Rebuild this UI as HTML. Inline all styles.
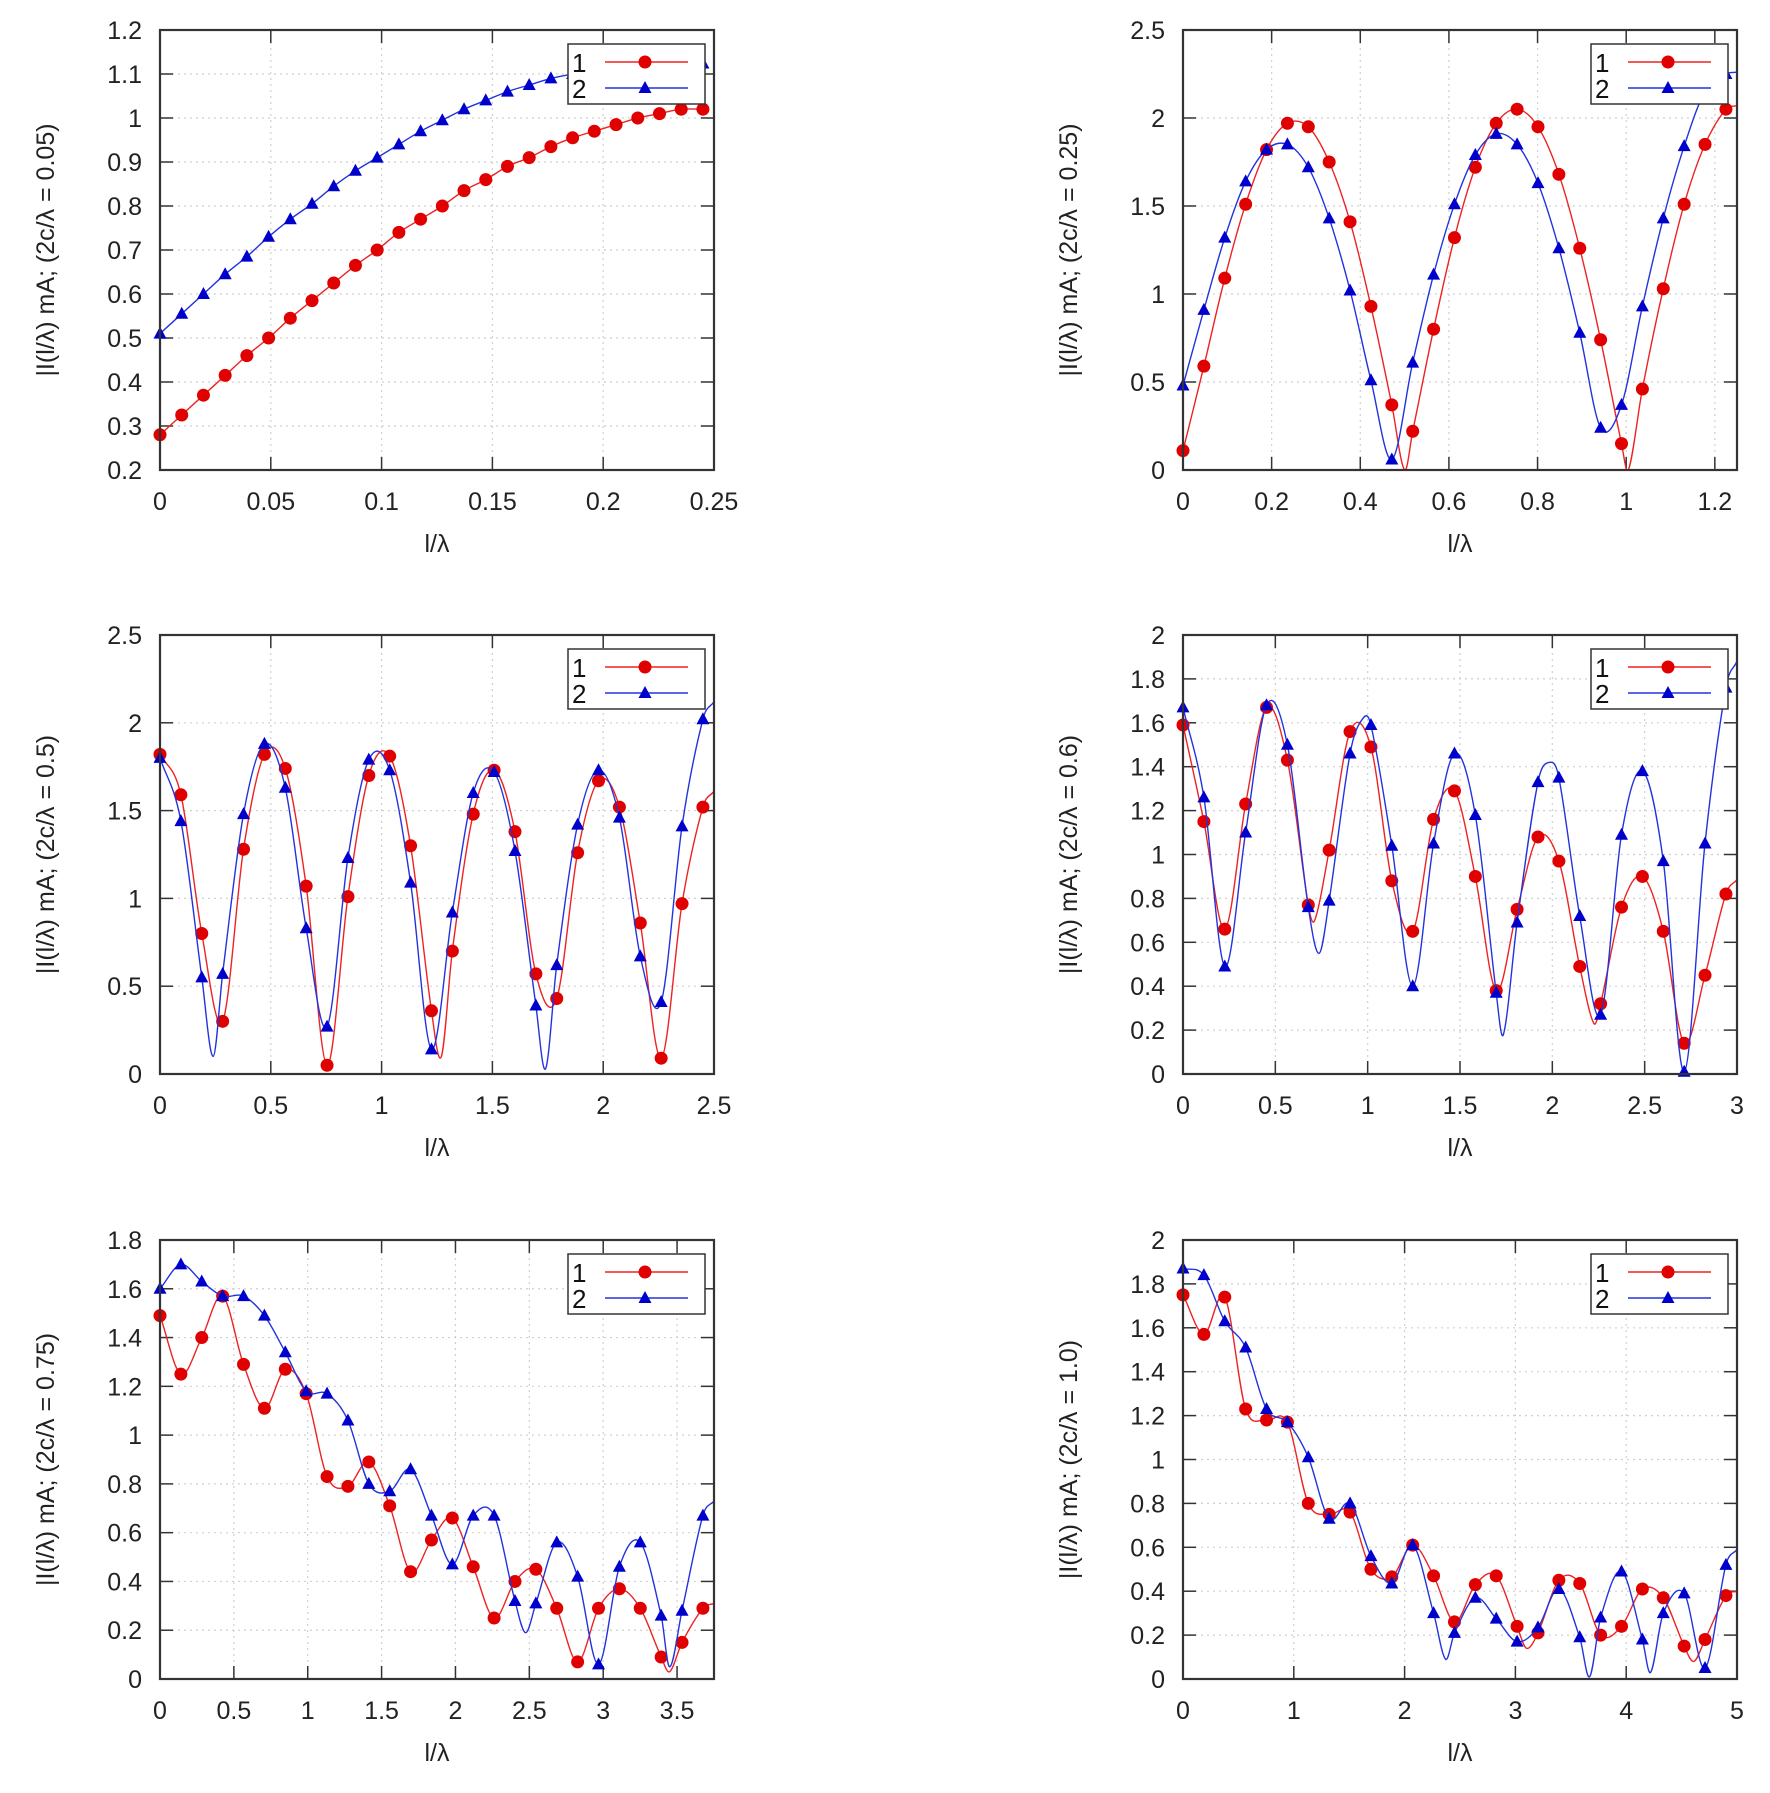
<!DOCTYPE html>
<html><head><meta charset="utf-8">
<style>
html,body{margin:0;padding:0;background:#fff;}
svg{display:block;font-family:"Liberation Sans",Arial,sans-serif;}
</style></head>
<body>
<svg id="fig" width="1770" height="1793" viewBox="0 0 1770 1793" xmlns="http://www.w3.org/2000/svg"></svg>
<script>
// ---- Plot 1 (2c/λ = 0.05)
const p1Red = [0.28,0.325,0.37,0.415,0.46,0.50,0.545,0.585,0.625,0.665,0.70,0.74,0.77,0.80,0.835,0.86,0.89,0.91,0.935,0.955,0.97,0.985,1.0,1.01,1.02,1.02];
const p1Blue = [0.51,0.555,0.60,0.645,0.685,0.73,0.77,0.805,0.845,0.88,0.91,0.94,0.97,0.995,1.02,1.04,1.06,1.075,1.09,1.10,1.108,1.114,1.118,1.12,1.122,1.124];
const p1RedExtra = [];
const p1BlueExtra = [];
const p1XTicks = [0,0.05,0.1,0.15,0.2,0.25];
const p1XLabels = ["0","0.05","0.1","0.15","0.2","0.25"];
const p1YTicks = [0.2,0.3,0.4,0.5,0.6,0.7,0.8,0.9,1.0,1.1,1.2];
const p1YLabels = ["0.2","0.3","0.4","0.5","0.6","0.7","0.8","0.9","1","1.1","1.2"];
// ---- Plot 2 (0.25)
const p2Red = [0.11,0.59,1.09,1.51,1.82,1.97,1.95,1.75,1.41,0.93,0.37,0.22,0.80,1.32,1.72,1.97,2.05,1.95,1.68,1.26,0.74,0.15,0.46,1.03,1.51,1.85,2.05];
const p2Blue = [0.48,0.91,1.32,1.64,1.82,1.85,1.72,1.43,1.02,0.51,0.06,0.61,1.11,1.51,1.79,1.91,1.85,1.63,1.26,0.78,0.24,0.37,0.93,1.43,1.84,2.15,2.25];
const p2RedExtra = [[0.50,0.0],[1.005,0.0],[1.25,2.07]];
const p2BlueExtra = [[0.478,0.0],[0.98,0.0],[1.25,2.26]];
const p2XTicks = [0,0.2,0.4,0.6,0.8,1.0,1.2];
const p2XLabels = ["0","0.2","0.4","0.6","0.8","1","1.2"];
const p2YTicks = [0,0.5,1,1.5,2,2.5];
const p2YLabels = ["0","0.5","1","1.5","2","2.5"];
// ---- Plot 3 (0.5)
const p3Red = [1.82,1.59,0.80,0.30,1.28,1.82,1.74,1.07,0.05,1.01,1.70,1.81,1.30,0.36,0.70,1.48,1.73,1.38,0.57,0.43,1.26,1.67,1.52,0.86,0.09,0.97,1.52];
const p3Blue = [1.80,1.44,0.55,0.57,1.48,1.88,1.63,0.83,0.27,1.23,1.79,1.73,1.09,0.14,0.92,1.60,1.72,1.27,0.39,0.62,1.42,1.73,1.46,0.67,0.41,1.41,2.02];
const p3RedExtra = [[0.257,0.08],[1.27,0.10],[1.77,0.05],[2.28,0.07],[2.5,1.61]];
const p3BlueExtra = [[0.24,0.10],[0.74,0.09],[1.74,0.03],[2.25,0.07],[2.5,2.12]];
const p3XTicks = [0,0.5,1,1.5,2,2.5];
const p3XLabels = ["0","0.5","1","1.5","2","2.5"];
const p3YTicks = [0,0.5,1,1.5,2,2.5];
const p3YLabels = ["0","0.5","1","1.5","2","2.5"];
// ---- Plot 4 (0.6)
const p4Red = [1.59,1.15,0.66,1.23,1.67,1.43,0.77,1.02,1.56,1.49,0.88,0.65,1.16,1.29,0.90,0.38,0.75,1.08,0.97,0.49,0.32,0.76,0.90,0.65,0.14,0.45,0.82];
const p4Blue = [1.67,1.26,0.49,1.10,1.68,1.50,0.76,0.79,1.46,1.59,1.04,0.40,1.05,1.46,1.18,0.37,0.69,1.33,1.35,0.72,0.27,1.09,1.38,0.97,0.01,1.05,1.76];
const p4RedExtra = [[0.713,0.70],[1.21,0.59],[2.225,0.23],[2.74,0.07],[3.0,0.885]];
const p4BlueExtra = [[0.737,0.55],[0.974,1.62],[1.735,0.18],[1.986,1.42],[2.24,0.09],[3.0,1.88]];
const p4XTicks = [0,0.5,1,1.5,2,2.5,3];
const p4XLabels = ["0","0.5","1","1.5","2","2.5","3"];
const p4YTicks = [0,0.2,0.4,0.6,0.8,1.0,1.2,1.4,1.6,1.8,2.0];
const p4YLabels = ["0","0.2","0.4","0.6","0.8","1","1.2","1.4","1.6","1.8","2"];
// ---- Plot 5 (0.75)
const p5Red = [1.49,1.25,1.40,1.57,1.29,1.11,1.27,1.17,0.83,0.79,0.89,0.71,0.44,0.57,0.66,0.46,0.25,0.40,0.45,0.29,0.07,0.29,0.37,0.29,0.09,0.15,0.29];
const p5Blue = [1.60,1.70,1.63,1.57,1.57,1.49,1.34,1.18,1.17,1.06,0.80,0.77,0.86,0.67,0.47,0.67,0.67,0.32,0.31,0.56,0.42,0.06,0.46,0.56,0.26,0.28,0.67];
const p5RedExtra = [[3.45,0.03],[3.75,0.31]];
const p5BlueExtra = [[2.475,0.19],[3.45,0.05],[3.75,0.73]];
const p5XTicks = [0,0.5,1,1.5,2,2.5,3,3.5];
const p5XLabels = ["0","0.5","1","1.5","2","2.5","3","3.5"];
const p5YTicks = [0,0.2,0.4,0.6,0.8,1.0,1.2,1.4,1.6,1.8];
const p5YLabels = ["0","0.2","0.4","0.6","0.8","1","1.2","1.4","1.6","1.8"];
// ---- Plot 6 (1.0)
const p6Red = [1.75,1.57,1.74,1.23,1.18,1.17,0.80,0.75,0.76,0.50,0.465,0.61,0.47,0.26,0.43,0.47,0.24,0.21,0.45,0.435,0.20,0.24,0.41,0.37,0.15,0.18,0.38];
const p6Blue = [1.87,1.84,1.63,1.51,1.23,1.17,1.01,0.73,0.80,0.56,0.435,0.61,0.30,0.21,0.37,0.275,0.17,0.235,0.41,0.19,0.28,0.49,0.18,0.30,0.39,0.05,0.52];
const p6RedExtra = [[3.10,0.14],[3.82,0.14],[4.61,0.08],[5.0,0.40]];
const p6BlueExtra = [[2.37,0.09],[3.67,0.01],[4.22,0.03],[4.72,0.01],[5.0,0.59]];
const p6XTicks = [0,1,2,3,4,5];
const p6XLabels = ["0","1","2","3","4","5"];
const p6YTicks = [0,0.2,0.4,0.6,0.8,1.0,1.2,1.4,1.6,1.8,2.0];
const p6YLabels = ["0","0.2","0.4","0.6","0.8","1","1.2","1.4","1.6","1.8","2"];

const xMaxes = [0.25,1.25,2.5,3.0,3.75,5.0];
const yMins = [0.2,0,0,0,0,0];
const yMaxes = [1.2,2.5,2.5,2.0,1.8,2.0];
const titles = ["0.05","0.25","0.5","0.6","0.75","1.0"];

const NS="http://www.w3.org/2000/svg";
const svg=document.getElementById('fig');
function mk(tag,attrs,parent){const e=document.createElementNS(NS,tag);for(const k in attrs)e.setAttribute(k,attrs[k]);(parent||svg).appendChild(e);return e;}

const boxes=[[160,30,714,470],[1183,30,1737,470],[160,635,714,1074],[1183,635,1737,1074],[160,1240,714,1679],[1183,1240,1737,1679]];
const plots=[
 [p1Red,p1Blue,p1RedExtra,p1BlueExtra,p1XTicks,p1XLabels,p1YTicks,p1YLabels],
 [p2Red,p2Blue,p2RedExtra,p2BlueExtra,p2XTicks,p2XLabels,p2YTicks,p2YLabels],
 [p3Red,p3Blue,p3RedExtra,p3BlueExtra,p3XTicks,p3XLabels,p3YTicks,p3YLabels],
 [p4Red,p4Blue,p4RedExtra,p4BlueExtra,p4XTicks,p4XLabels,p4YTicks,p4YLabels],
 [p5Red,p5Blue,p5RedExtra,p5BlueExtra,p5XTicks,p5XLabels,p5YTicks,p5YLabels],
 [p6Red,p6Blue,p6RedExtra,p6BlueExtra,p6XTicks,p6XLabels,p6YTicks,p6YLabels]
];

function smoothPath(pts){
  let d='M'+pts[0][0].toFixed(1)+','+pts[0][1].toFixed(1);
  for(let i=0;i<pts.length-1;i++){
    const p0=pts[Math.max(0,i-1)],p1=pts[i],p2=pts[i+1],p3=pts[Math.min(pts.length-1,i+2)];
    const h=p2[0]-p1[0];
    const s1=(p2[1]-p0[1])/Math.max(1e-6,(p2[0]-p0[0]));
    const s2=(p3[1]-p1[1])/Math.max(1e-6,(p3[0]-p1[0]));
    const c1x=p1[0]+h/3,c1y=p1[1]+s1*h/3;
    const c2x=p2[0]-h/3,c2y=p2[1]-s2*h/3;
    d+=' C'+c1x.toFixed(1)+','+c1y.toFixed(1)+' '+c2x.toFixed(1)+','+c2y.toFixed(1)+' '+p2[0].toFixed(1)+','+p2[1].toFixed(1);
  }
  return d;
}

plots.forEach((P,k)=>{
  const [L,T,R,B]=boxes[k];
  const xmax=xMaxes[k],ymin=yMins[k],ymax=yMaxes[k];
  const sx=v=>L+(v/xmax)*(R-L);
  const sy=v=>B-(v-ymin)/(ymax-ymin)*(B-T);
  const step=xmax*0.98/(P[0].length-1);
  const g=mk('g',{});
  
  
  const cid='clip'+k;
  const cp=mk('clipPath',{id:cid},g);mk('rect',{x:L,y:T,width:R-L,height:B-T},cp);
  P[4].forEach((v,i)=>{
    const x=sx(v);
    if(i>0&&Math.abs(x-R)>2){const gl=mk('line',{x1:x,y1:T,x2:x,y2:B,stroke:'#d0d0d0','stroke-width':1.2,'stroke-dasharray':'2,4'},g);
      }
    mk('line',{x1:x,y1:B,x2:x,y2:B-13,stroke:'#333','stroke-width':1.5},g);
    mk('line',{x1:x,y1:T,x2:x,y2:T+13,stroke:'#333','stroke-width':1.5},g);
    const t=mk('text',{x:x,y:B+40,'font-size':25,'text-anchor':'middle',fill:'#222'},g);
    t.textContent=P[5][i];
    
  });
  P[6].forEach((v,i)=>{
    const y=sy(v);
    if(i>0&&i<P[6].length-1){const gl=mk('line',{x1:L,y1:y,x2:R,y2:y,stroke:'#d0d0d0','stroke-width':1.2,'stroke-dasharray':'2,4'},g);
      }
    mk('line',{x1:L,y1:y,x2:L+13,y2:y,stroke:'#333','stroke-width':1.5},g);
    mk('line',{x1:R,y1:y,x2:R-13,y2:y,stroke:'#333','stroke-width':1.5},g);
    const t=mk('text',{x:L-18,y:y+9,'font-size':25,'text-anchor':'end',fill:'#222'},g);
    t.textContent=P[7][i];
    
  });
  const series=[[P[0],P[2],'#ee2222','#e00000','circle','series-1'],[P[1],P[3],'#2233dd','#0000cc','tri','series-2']];
  series.forEach(s=>{
    let pts=s[0].map((v,i)=>[i*step,v]);
    s[1].forEach(e=>{ if(!pts.some(p=>Math.abs(p[0]-e[0])<step*0.3)) pts.push(e); });
    pts=pts.filter(p=>p[0]<=xmax+1e-9).sort((a,b)=>a[0]-b[0]);
    const path=mk('path',{d:smoothPath(pts.map(p=>[sx(p[0]),sy(p[1])])),fill:'none',stroke:s[2],'stroke-width':1.4,'clip-path':'url(#'+cid+')'},g);
    
    s[0].forEach((v,i)=>{
      const x=sx(i*step),y=sy(v);
      let m;
      if(s[4]==='circle') m=mk('circle',{cx:x,cy:y,r:6.5,fill:s[3]},g);
      else m=mk('polygon',{points:(x)+','+(y-7)+' '+(x-6.5)+','+(y+5)+' '+(x+6.5)+','+(y+5),fill:s[3]},g);
      
    });
  });
  const fr=mk('rect',{x:L,y:T,width:R-L,height:B-T,fill:'none',stroke:'#333','stroke-width':2.2},g);
  
  const lg=mk('g',{},g);
  
  const lx=R-146,ly=T+14;
  mk('rect',{x:lx,y:ly,width:137,height:60,fill:'#fff',stroke:'#333','stroke-width':1.5},lg);
  [['1','#ee2222','#e00000','circle',ly+18],['2','#2233dd','#0000cc','tri',ly+44]].forEach(e=>{
    const t=mk('text',{x:lx+4,y:e[4]+10,'font-size':26,fill:'#111'},lg);t.textContent=e[0];
    
    mk('line',{x1:lx+37,y1:e[4],x2:lx+120,y2:e[4],stroke:e[1],'stroke-width':1.4},lg);
    const cx=lx+77;
    if(e[3]==='circle')mk('circle',{cx:cx,cy:e[4],r:6.5,fill:e[2]},lg);
    else mk('polygon',{points:cx+','+(e[4]-7)+' '+(cx-6.5)+','+(e[4]+5)+' '+(cx+6.5)+','+(e[4]+5),fill:e[2]},lg);
  });
  const xt=mk('text',{x:(L+R)/2,y:B+82,'font-size':25,'text-anchor':'middle',fill:'#222'},g);
  xt.textContent='l/λ';
  
  const cy=(T+B)/2, cx=L-106;
  const yt=mk('text',{x:cx,y:cy,'font-size':25,'text-anchor':'middle',fill:'#222',transform:'rotate(-90 '+cx+' '+cy+')'},g);
  yt.textContent='|I(l/λ) mA; (2c/λ = '+titles[k]+')';
  
});
</script>
</body></html>
